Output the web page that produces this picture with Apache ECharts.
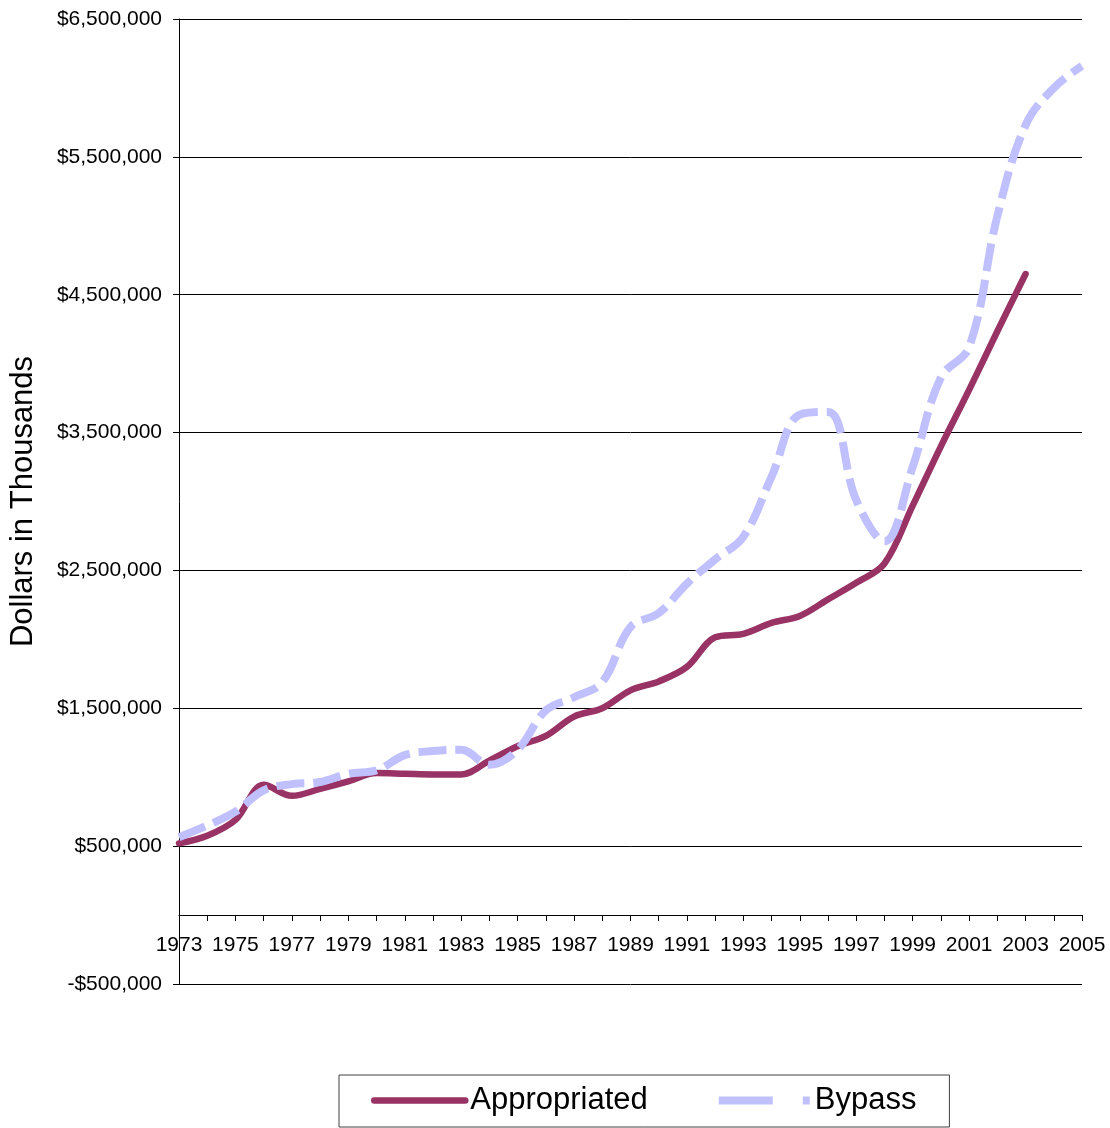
<!DOCTYPE html>
<html>
<head>
<meta charset="utf-8">
<script src="https://cdn.jsdelivr.net/npm/echarts@6/dist/echarts.min.js"></script>
<style>
html,body{margin:0;padding:0;background:#fff;}
#chart{width:1110px;height:1128px;}
</style>
</head>
<body>
<div id="chart"></div>
<script>
const years = ['1973','1974','1975','1976','1977','1978','1979','1980','1981','1982','1983',
  '1984','1985','1986','1987','1988','1989','1990','1991','1992','1993','1994','1995',
  '1996','1997','1998','1999','2000','2001','2002','2003','2004','2005'];

const appropriated = [520000, 575000, 690000, 945000, 865000, 915000, 970000, 1030000, 1025000,
  1020000, 1020000, 1120000, 1225000, 1300000, 1440000, 1500000, 1630000, 1695000, 1800000,
  2015000, 2040000, 2120000, 2170000, 2290000, 2410000, 2550000, 2970000, 3400000, 3810000,
  4235000, 4650000, null, null];

const bypass = [565000, 650000, 750000, 905000, 950000, 965000, 1025000, 1050000, 1160000,
  1190000, 1200000, 1090000, 1200000, 1485000, 1580000, 1690000, 2090000, 2190000, 2405000,
  2580000, 2745000, 3180000, 3630000, 3650000, 3010000, 2710000, 3250000, 3900000, 4120000,
  5070000, 5730000, 6000000, 6160000];

const yTicks = { min: -500000, max: 6500000, step: 1000000 };

const FONT = '"Liberation Sans", Arial, sans-serif';

const chart = echarts.init(document.getElementById('chart'), null, { renderer: 'canvas' });

function money(v) {
  return (v < 0 ? '-' : '') + '$' + Math.abs(v).toLocaleString('en-US');
}

// x axis sits at value 0: shift it up from the grid bottom by the pixel height of (0 - min)
const gridTop = 19, gridBottom = 144, chartH = 1128;
const plotH = chartH - gridTop - gridBottom;
const zeroOffset = -plotH * (0 - yTicks.min) / (yTicks.max - yTicks.min);

chart.setOption({
  animation: false,
  backgroundColor: '#ffffff',
  textStyle: { fontFamily: FONT },
  grid: { left: 178, right: 28, top: gridTop, bottom: gridBottom, containLabel: false },
  xAxis: {
    type: 'category',
    data: years,
    boundaryGap: false,
    offset: zeroOffset,
    axisLine: { onZero: false, lineStyle: { color: '#000', width: 1 } },
    axisTick: { show: true, interval: 0, length: 6, inside: false, lineStyle: { color: '#000' } },
    axisLabel: { interval: 1, margin: 20, color: '#000', fontSize: 21, fontFamily: FONT },
    splitLine: { show: false }
  },
  yAxis: {
    type: 'value',
    min: yTicks.min,
    max: yTicks.max,
    interval: yTicks.step,
    name: 'Dollars in Thousands',
    nameLocation: 'middle',
    nameRotate: 90,
    nameGap: 140,
    nameTextStyle: { color: '#000', fontSize: 31, fontFamily: FONT },
    axisLine: { show: true, lineStyle: { color: '#000', width: 1 } },
    axisTick: { show: true, length: 6, inside: false, lineStyle: { color: '#000' } },
    axisLabel: { margin: 17, color: '#000', fontSize: 21, fontFamily: FONT, formatter: money },
    splitLine: { show: true, lineStyle: { color: '#000', width: 1 } }
  },
  legend: {
    left: 339,
    top: 1075,
    orient: 'horizontal',
    padding: [10, 33, 11, 32],
    itemWidth: 91,
    itemHeight: 14,
    itemGap: 67,
    borderColor: '#404040',
    borderWidth: 1,
    itemStyle: { opacity: 0 },
    textStyle: { color: '#000', fontSize: 31, fontFamily: FONT },
    data: [
      { name: 'Appropriated', lineStyle: { width: 6.5, cap: 'round' } },
      { name: 'Bypass', lineStyle: { width: 8, type: [54, 30], cap: 'butt' } }
    ]
  },
  series: [
    {
      name: 'Appropriated',
      type: 'line',
      data: appropriated,
      smooth: 0.35,
      symbol: 'none',
      showSymbol: false,
      connectNulls: false,
      lineStyle: { color: '#993366', width: 6.5, cap: 'round', join: 'round' },
      itemStyle: { color: '#993366' },
      z: 2
    },
    {
      name: 'Bypass',
      type: 'line',
      data: bypass,
      smooth: 0.38,
      symbol: 'none',
      showSymbol: false,
      lineStyle: { color: '#C0C0FF', width: 8, type: [28, 9], cap: 'butt' },
      itemStyle: { color: '#C0C0FF' },
      z: 3
    }
  ]
});
</script>
</body>
</html>
